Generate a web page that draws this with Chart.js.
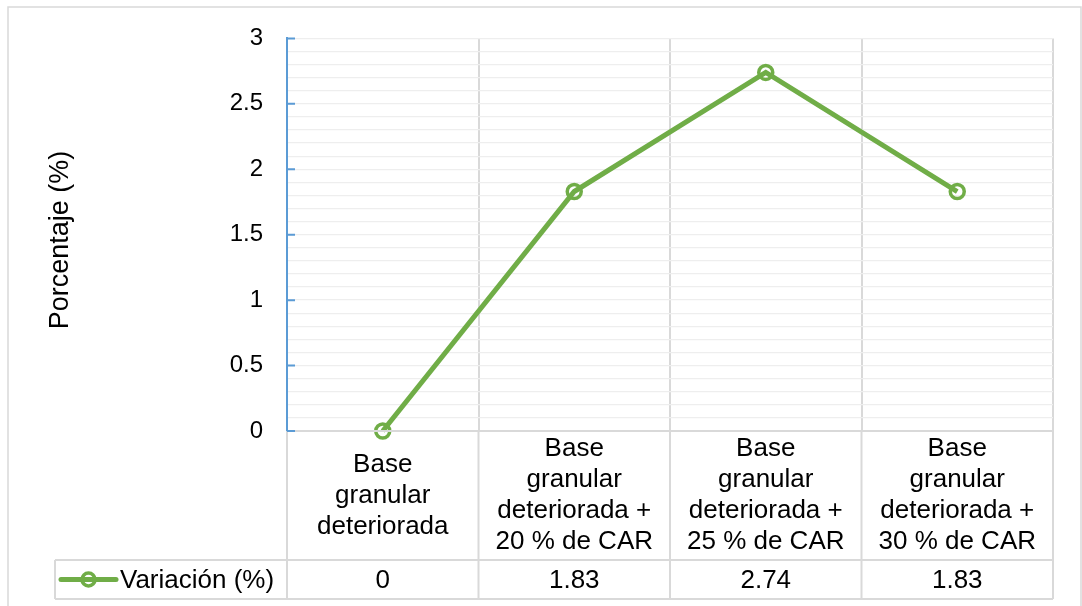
<!DOCTYPE html>
<html>
<head>
<meta charset="utf-8">
<script src="https://cdn.jsdelivr.net/npm/chart.js@4.4.1/dist/chart.umd.min.js"></script>
<style>
  html, body { margin: 0; padding: 0; background: #fff; }
  canvas { display: block; }
</style>
</head>
<body>
<canvas id="chart" width="1082" height="606"></canvas>
<script>
"use strict";

// ─── Data ──────────────────────────────────────────────────────────────────
const categories = [
  ["Base", "granular", "deteriorada"],
  ["Base", "granular", "deteriorada +", "20 % de CAR"],
  ["Base", "granular", "deteriorada +", "25 % de CAR"],
  ["Base", "granular", "deteriorada +", "30 % de CAR"],
];
const seriesName   = "Variación (%)";
const seriesValues = [0, 1.83, 2.74, 1.83];
const yTickLabels  = ["0", "0.5", "1", "1.5", "2", "2.5", "3"];
const yTitle       = "Porcentaje (%)";

// ─── Style ─────────────────────────────────────────────────────────────────
const GREEN     = "#70ad47";
const AXIS_BLUE = "#5b9bd5";
const GRID      = "#d9d9d9";
const MINOR     = "#eeeeee";
const FONT      = "'Liberation Sans', Arial, sans-serif";

const LABEL_ROW_BOTTOM = 560;
const VALUE_ROW_BOTTOM = 599;
const LEGEND_LEFT      = 55;
const LABEL_LINE_H     = 31;

// ─── Background + outer frame + y title ────────────────────────────────────
const framePlugin = {
  id: "frame",
  beforeDraw(chart) {
    const ctx = chart.ctx;
    ctx.save();
    ctx.fillStyle = "#fff";
    ctx.fillRect(0, 0, chart.width, chart.height);
    ctx.strokeStyle = GRID;
    ctx.lineWidth = 1.5;
    ctx.strokeRect(8, 7, chart.width - 9, chart.height + 20);

    // axis title, placed as in the source
    ctx.translate(61, 240);
    ctx.rotate(-Math.PI / 2);
    ctx.fillStyle = "#000";
    ctx.font = "27px " + FONT;
    ctx.textAlign = "center";
    ctx.textBaseline = "middle";
    ctx.fillText(yTitle, 0, 0);
    ctx.restore();
  },
};

// ─── Excel-style data table under the plot + inside major ticks ────────────
const tablePlugin = {
  id: "dataTable",
  afterDraw(chart) {
    const ctx = chart.ctx;
    const x = chart.scales.x;
    const y = chart.scales.y;
    const area = chart.chartArea;
    const n = categories.length;

    // column boundaries from the category scale
    const bounds = [area.left];
    for (let i = 0; i < n - 1; i++) {
      bounds.push((x.getPixelForValue(i) + x.getPixelForValue(i + 1)) / 2);
    }
    bounds.push(area.right);

    ctx.save();
    ctx.strokeStyle = GRID;
    ctx.lineWidth = 2;
    ctx.beginPath();
    ctx.moveTo(area.left, area.bottom);
    ctx.lineTo(area.right, area.bottom);
    ctx.moveTo(LEGEND_LEFT, LABEL_ROW_BOTTOM);
    ctx.lineTo(area.right, LABEL_ROW_BOTTOM);
    ctx.moveTo(LEGEND_LEFT, VALUE_ROW_BOTTOM);
    ctx.lineTo(area.right, VALUE_ROW_BOTTOM);
    bounds.forEach(bx => {
      ctx.moveTo(bx, area.bottom);
      ctx.lineTo(bx, VALUE_ROW_BOTTOM);
    });
    ctx.moveTo(LEGEND_LEFT, LABEL_ROW_BOTTOM);
    ctx.lineTo(LEGEND_LEFT, VALUE_ROW_BOTTOM);
    ctx.stroke();

    // category labels + values
    ctx.fillStyle = "#000";
    ctx.font = "26px " + FONT;
    ctx.textAlign = "center";
    ctx.textBaseline = "middle";
    const labelMid = (area.bottom + LABEL_ROW_BOTTOM) / 2;
    const valueMid = (LABEL_ROW_BOTTOM + VALUE_ROW_BOTTOM) / 2;
    categories.forEach((lines, i) => {
      const cx = x.getPixelForValue(i);
      const y0 = labelMid - (lines.length - 1) * LABEL_LINE_H / 2;
      lines.forEach((ln, j) => ctx.fillText(ln, cx, y0 + j * LABEL_LINE_H));
      ctx.fillText(String(seriesValues[i]), cx, valueMid + 1);
    });

    // legend key
    ctx.strokeStyle = GREEN;
    ctx.lineWidth = 5;
    ctx.lineCap = "round";
    ctx.beginPath();
    ctx.moveTo(61, valueMid);
    ctx.lineTo(116, valueMid);
    ctx.stroke();
    ctx.lineWidth = 3.5;
    ctx.beginPath();
    ctx.arc(88.5, valueMid, 6.5, 0, Math.PI * 2);
    ctx.stroke();
    ctx.textAlign = "left";
    ctx.fillText(seriesName, 120, valueMid + 1);

    // inside major tick marks on the value axis
    ctx.strokeStyle = AXIS_BLUE;
    ctx.lineWidth = 2;
    ctx.lineCap = "butt";
    ctx.beginPath();
    yTickLabels.forEach((_, k) => {
      const py = y.getPixelForValue(k * 0.5);
      ctx.moveTo(area.left, py);
      ctx.lineTo(area.left + 8, py);
    });
    ctx.stroke();
    ctx.restore();
  },
};

// ─── Chart ─────────────────────────────────────────────────────────────────
new Chart(document.getElementById("chart"), {
  type: "line",
  data: {
    labels: categories,
    datasets: [{
      label: seriesName,
      data: seriesValues,
      borderColor: GREEN,
      borderWidth: 5,
      tension: 0,
      pointRadius: 7,
      pointBorderWidth: 3.5,
      pointBorderColor: GREEN,
      pointBackgroundColor: "rgba(0,0,0,0)",
      clip: false,
    }],
  },
  options: {
    responsive: false,
    animation: false,
    layout: { padding: { top: 37, right: 29, bottom: 175, left: 0 } },
    plugins: {
      legend: { display: false },
      tooltip: { enabled: false },
    },
    scales: {
      x: {
        type: "category",
        offset: true,
        grid: {
          offset: true,
          drawTicks: false,
          color: c => (c.index === 0 ? "rgba(0,0,0,0)" : GRID),
          lineWidth: 2,
        },
        border: { display: false },
        ticks: { display: false },
        afterFit: s => { s.height = 0; },
      },
      y: {
        min: 0,
        max: 3,
        grid: {
          drawTicks: false,
          color: c => (c.tick && c.tick.value === 0 ? "rgba(0,0,0,0)" : MINOR),
          lineWidth: 1.3,
        },
        border: { color: AXIS_BLUE, width: 2 },
        ticks: {
          stepSize: 0.1,
          autoSkip: false,
          padding: 24,
          color: "#000",
          font: { family: FONT, size: 24 },
          callback: v => {
            const t = Math.round(v * 10);
            return t % 5 === 0 ? yTickLabels[t / 5] : "";
          },
        },
        afterFit: s => { s.width = 287; },
      },
    },
  },
  plugins: [framePlugin, tablePlugin],
});
</script>
</body>
</html>
